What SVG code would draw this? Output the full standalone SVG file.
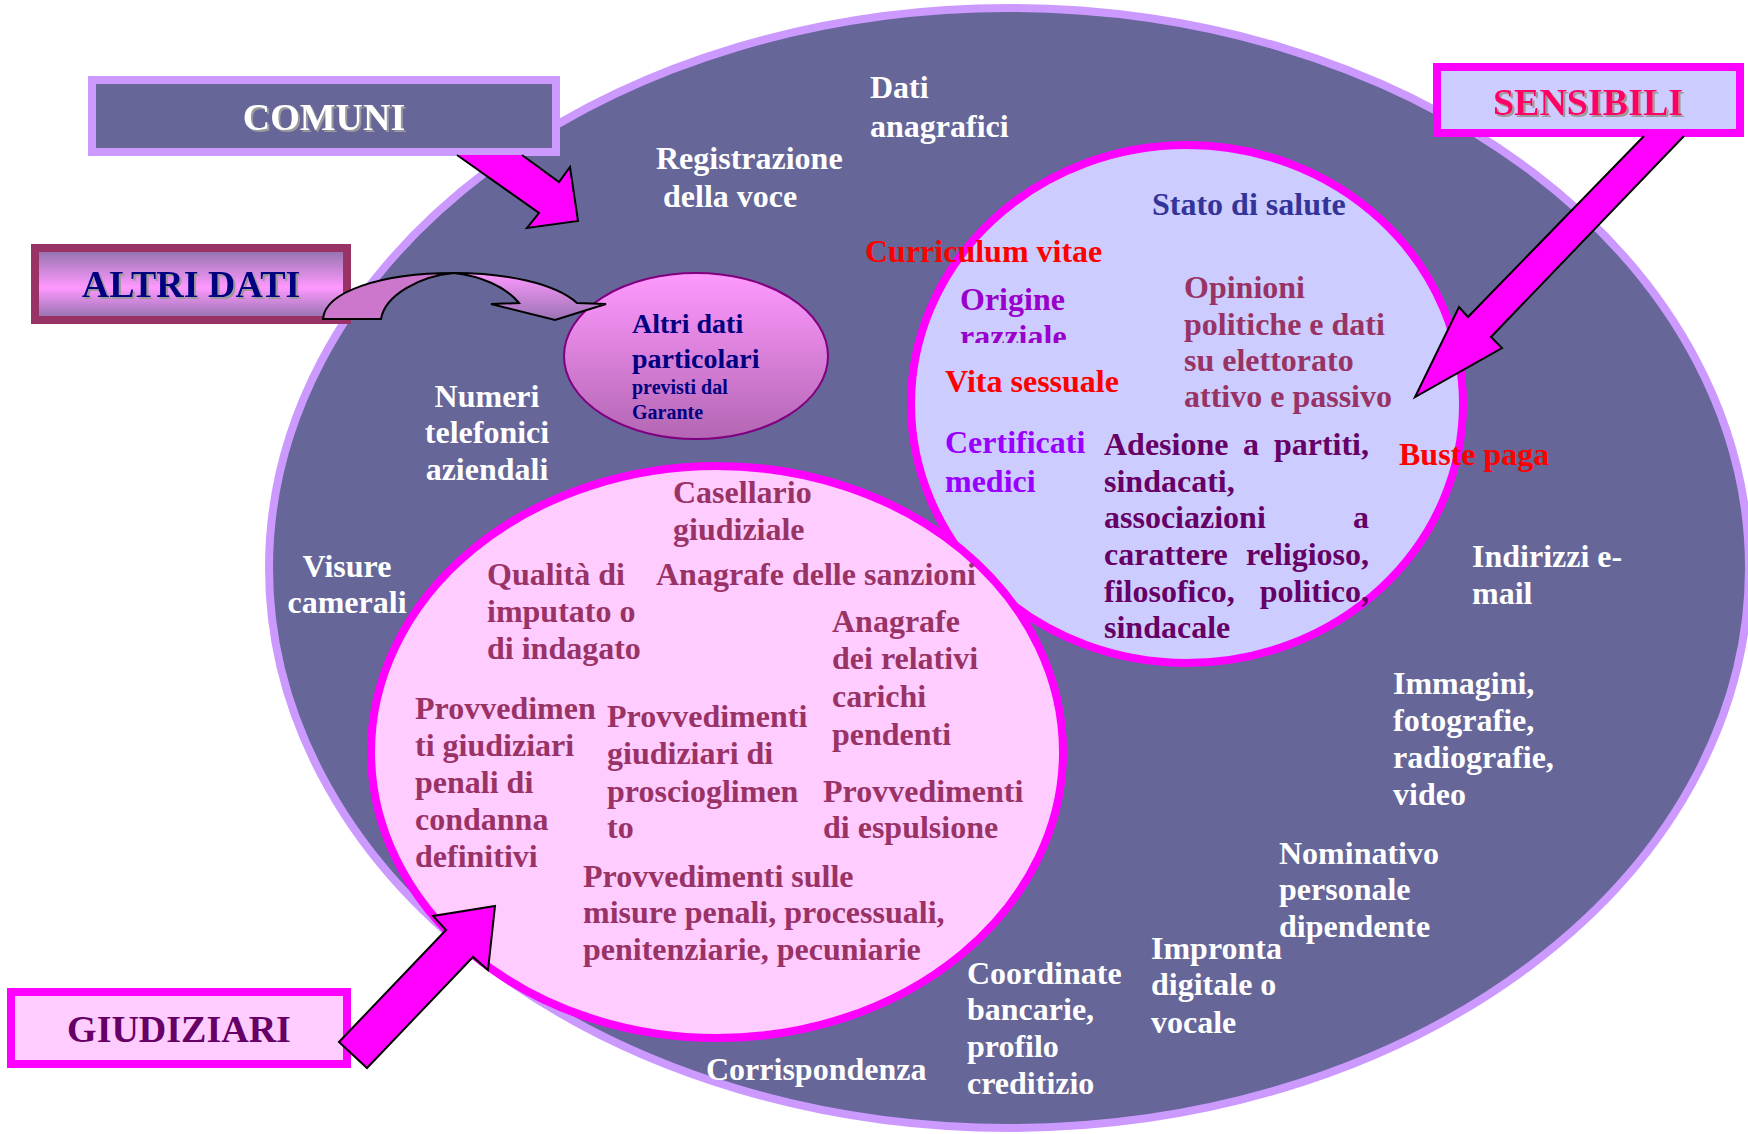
<svg xmlns="http://www.w3.org/2000/svg" width="1748" height="1134" viewBox="0 0 1748 1134">
<defs>
  <linearGradient id="gAltriBox" x1="0" y1="0" x2="0" y2="1">
    <stop offset="0" stop-color="#8C70A8"/>
    <stop offset="0.55" stop-color="#FF99FF"/>
    <stop offset="1" stop-color="#8C70A8"/>
  </linearGradient>
  <linearGradient id="gEll" x1="0" y1="0" x2="0" y2="1">
    <stop offset="0" stop-color="#FF99FF"/>
    <stop offset="1" stop-color="#B366B3"/>
  </linearGradient>
  <linearGradient id="gCurve" gradientUnits="userSpaceOnUse" x1="0" y1="272" x2="0" y2="320">
    <stop offset="0" stop-color="#FF99FF"/>
    <stop offset="1" stop-color="#9A74B4"/>
  </linearGradient>
  <clipPath id="clipRazz"><rect x="900" y="300" width="200" height="43"/></clipPath>
  <filter id="sh" x="-10%" y="-20%" width="130%" height="150%">
    <feDropShadow dx="2" dy="2" stdDeviation="0" flood-color="#9A9A9A"/>
  </filter>
</defs>
<style>
  text { font-family: "Liberation Serif", "Times New Roman", serif; font-weight: bold; font-size: 32px; }
  .w { fill: #FFFFFF; }
  .pk { fill: #993366; }
  .dp { fill: #660066; }
  .red { fill: #FF0000; }
  .nv { fill: #000080; }
  .title { font-size: 38px; }
  .mid { text-anchor: middle; }
  .end { text-anchor: end; }
  .arrow { fill: #FF00FF; stroke: #000000; stroke-width: 2; stroke-linejoin: miter; }
</style>

<g id="comuni-area">
  <ellipse cx="1009" cy="568" rx="740" ry="560" fill="#666699" stroke="#CC99FF" stroke-width="8"/>
  <text class="w" x="870" y="98">Dati</text>
  <text class="w" x="870" y="137">anagrafici</text>
  <text class="w" x="656" y="169">Registrazione</text>
  <text class="w" x="663" y="207">della voce</text>
  <text class="w mid" x="487" y="407">Numeri</text>
  <text class="w mid" x="487" y="443">telefonici</text>
  <text class="w mid" x="487" y="480">aziendali</text>
  <text class="w mid" x="347" y="577">Visure</text>
  <text class="w mid" x="347" y="613">camerali</text>
  <text class="w" x="1472" y="567">Indirizzi e-</text>
  <text class="w" x="1472" y="604">mail</text>
  <text class="w" x="1393" y="694">Immagini,</text>
  <text class="w" x="1393" y="731">fotografie,</text>
  <text class="w" x="1393" y="768">radiografie,</text>
  <text class="w" x="1393" y="805">video</text>
  <text class="w" x="1279" y="864">Nominativo</text>
  <text class="w" x="1279" y="900">personale</text>
  <text class="w" x="1279" y="937">dipendente</text>
  <text class="w" x="1151" y="959">Impronta</text>
  <text class="w" x="1151" y="995">digitale o</text>
  <text class="w" x="1151" y="1033">vocale</text>
  <text class="w" x="967" y="984">Coordinate</text>
  <text class="w" x="967" y="1020">bancarie,</text>
  <text class="w" x="967" y="1057">profilo</text>
  <text class="w" x="967" y="1094">creditizio</text>
  <text class="w" x="706" y="1080">Corrispondenza</text>
</g>

<g id="sensibili-area">
  <ellipse cx="1187" cy="404" rx="276" ry="259" fill="#CCCCFF" stroke="#FF00FF" stroke-width="8"/>
  <text x="1152" y="215" fill="#333399">Stato di salute</text>
  <text class="red" x="865" y="262">Curriculum vitae</text>
  <text x="960" y="310" fill="#9900CC">Origine</text>
  <text x="960" y="347" fill="#9900CC" clip-path="url(#clipRazz)">razziale</text>
  <text class="red" x="945" y="392">Vita sessuale</text>
  <text class="pk" x="1184" y="298">Opinioni</text>
  <text class="pk" x="1184" y="335">politiche e dati</text>
  <text class="pk" x="1184" y="371">su elettorato</text>
  <text class="pk" x="1184" y="407">attivo e passivo</text>
  <text x="945" y="453" fill="#9900FF">Certificati</text>
  <text x="945" y="492" fill="#9900FF">medici</text>
  <text class="dp" x="1104" y="455">Adesione</text>
  <text class="dp mid" x="1251" y="455">a</text>
  <text class="dp end" x="1369" y="455">partiti,</text>
  <text class="dp" x="1104" y="492">sindacati,</text>
  <text class="dp" x="1104" y="528">associazioni</text>
  <text class="dp end" x="1369" y="528">a</text>
  <text class="dp" x="1104" y="565">carattere</text>
  <text class="dp end" x="1369" y="565">religioso,</text>
  <text class="dp" x="1104" y="602">filosofico,</text>
  <text class="dp end" x="1369" y="602">politico,</text>
  <text class="dp" x="1104" y="638">sindacale</text>
  <text class="red" x="1399" y="465">Buste paga</text>
</g>

<g id="giudiziari-area">
  <ellipse cx="717" cy="752" rx="346" ry="286" fill="#FFCCFF" stroke="#FF00FF" stroke-width="8"/>
  <text class="pk" x="673" y="503">Casellario</text>
  <text class="pk" x="673" y="540">giudiziale</text>
  <text class="pk" x="487" y="585">Qualità di</text>
  <text class="pk" x="487" y="622">imputato o</text>
  <text class="pk" x="487" y="659">di indagato</text>
  <text class="pk" x="656" y="585">Anagrafe delle sanzioni</text>
  <text class="pk" x="832" y="632">Anagrafe</text>
  <text class="pk" x="832" y="669">dei relativi</text>
  <text class="pk" x="832" y="707">carichi</text>
  <text class="pk" x="832" y="745">pendenti</text>
  <text class="pk" x="415" y="719">Provvedimen</text>
  <text class="pk" x="415" y="756">ti giudiziari</text>
  <text class="pk" x="415" y="793">penali di</text>
  <text class="pk" x="415" y="830">condanna</text>
  <text class="pk" x="415" y="867">definitivi</text>
  <text class="pk" x="607" y="727">Provvedimenti</text>
  <text class="pk" x="607" y="764">giudiziari di</text>
  <text class="pk" x="607" y="802">proscioglimen</text>
  <text class="pk" x="607" y="838">to</text>
  <text class="pk" x="823" y="802">Provvedimenti</text>
  <text class="pk" x="823" y="838">di espulsione</text>
  <text class="pk" x="583" y="887">Provvedimenti sulle</text>
  <text class="pk" x="583" y="923">misure penali, processuali,</text>
  <text class="pk" x="583" y="960">penitenziarie, pecuniarie</text>
</g>

<g id="altri-dati-particolari">
  <ellipse cx="696" cy="356" rx="132" ry="83" fill="url(#gEll)" stroke="#800080" stroke-width="2"/>
  <text class="nv" x="632" y="333" style="font-size:28px">Altri dati</text>
  <text class="nv" x="632" y="368" style="font-size:28px">particolari</text>
  <text class="nv" x="632" y="394" style="font-size:20px">previsti dal</text>
  <text class="nv" x="632" y="419" style="font-size:20px">Garante</text>
</g>

<g id="label-comuni">
  <rect x="92" y="80" width="464" height="72" fill="#666699" stroke="#CC99FF" stroke-width="8"/>
  <text class="w title mid" x="324" y="130" filter="url(#sh)">COMUNI</text>
</g>

<g id="label-altri-dati">
  <rect x="35" y="248" width="312" height="72" fill="url(#gAltriBox)" stroke="#993366" stroke-width="8"/>
  <text class="nv title mid" x="191" y="297" filter="url(#sh)">ALTRI DATI</text>
</g>

<g id="label-sensibili">
  <rect x="1437" y="67" width="303" height="66" fill="#CCCCFF" stroke="#FF00FF" stroke-width="8"/>
  <text class="title mid" x="1588" y="115" fill="#FF0066" filter="url(#sh)">SENSIBILI</text>
</g>

<g id="label-giudiziari">
  <rect x="11" y="992" width="336" height="72" fill="#FFCCFF" stroke="#FF00FF" stroke-width="8"/>
  <text class="dp title mid" x="179" y="1042">GIUDIZIARI</text>
</g>

<g id="connectors">
  <path class="arrow" d="M457,155 L539,213 L527,228 L578,221 L570,167 L559,182 L522,155"/>
  <path class="arrow" d="M1644,136 L1468,317 L1459,307 L1415,397 L1502,348 L1491,337 L1684,136"/>
  <path class="arrow" d="M339,1042 L446,930 L433,916 L495,906 L488,970 L473,957 L367,1068 Z"/>
  <path d="M323,319 C325,292 380,273 454,273 C420,276 385,295 381,319 Z" fill="#CC77CC" stroke="#000" stroke-width="2"/>
  <path d="M454,273 C505,273 555,283 577,303 L606,304 L555,320 L491,304 L519,303 C505,286 480,276 454,273 Z" fill="url(#gCurve)" stroke="#000" stroke-width="2"/>
</g>
</svg>
